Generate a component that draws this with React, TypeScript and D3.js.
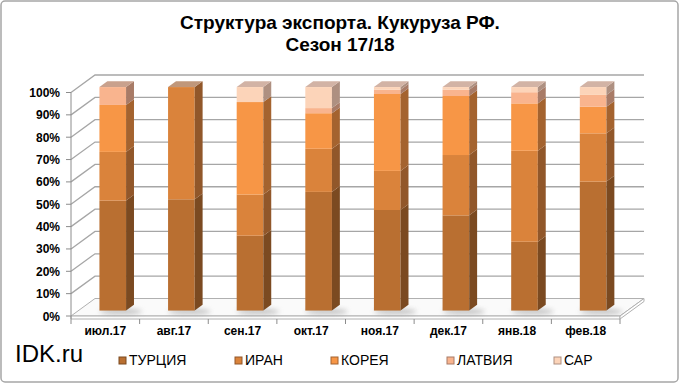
import React from "react";
import * as d3 from "d3";

const categories = ["июл.17", "авг.17", "сен.17", "окт.17", "ноя.17", "дек.17", "янв.18", "фев.18"];
const seriesNames = ["ТУРЦИЯ", "ИРАН", "КОРЕЯ", "ЛАТВИЯ", "САР"];
const turkey = [49.2, 49.8, 33.5, 53.1, 45, 42.6, 30.8, 57.7];
const iran = [21.8, 50.2, 18.4, 19.3, 17.5, 27, 40.7, 21.6];
const korea = [21, 0, 41.4, 15.9, 34.4, 26.4, 21.2, 11.9];
const latvia = [8, 0, 0, 2.3, 1.9, 2.8, 5, 5.3];
const sar = [0, 0, 6.7, 9.4, 1.2, 1.2, 2.3, 3.5];
const yTicks = [0, 10, 20, 30, 40, 50, 60, 70, 80, 90, 100];
const titleLines = ["Структура экспорта. Кукуруза РФ.", "Сезон 17/18"];

const frontColors = ["#B96F31", "#DA833B", "#F79646", "#F9B48E", "#FCD4B9"];
const sideColors = ["#7B4A21", "#91572A", "#A4632F", "#A87B67", "#AE9081"];
const topColors = ["#A98060", "#C0977A", "#D0A083", "#C9A18D", "#D2B3A5"];

const W = 680;
const H = 384;
const X0 = 71;
const X1 = 620;
const DX = 24;
const DY = -17.5;
const T0 = 0.31;
const TD = 0.33;

export default function App() {
  const table = categories.map((c, i) => ({
    cat: c,
    [seriesNames[0]]: turkey[i],
    [seriesNames[1]]: iran[i],
    [seriesNames[2]]: korea[i],
    [seriesNames[3]]: latvia[i],
    [seriesNames[4]]: sar[i],
  }));
  const stack = d3.stack<any>().keys(seriesNames).offset(d3.stackOffsetExpand);
  const layers = stack(table);

  const x = d3.scaleBand<string>().domain(categories).range([X0, X1]).paddingInner(0.612).paddingOuter(0.306);
  const xStep = d3.scaleBand<string>().domain(categories).range([X0, X1]);
  const y = d3.scaleLinear().domain([0, 1]).range([316, 92.5]);
  const yPct = d3.scaleLinear().domain([0, 100]).range([316, 92.5]);

  const fx = T0 * DX;
  const fy = T0 * DY;
  const sdx = TD * DX;
  const sdy = TD * DY;
  const bw = x.bandwidth();

  const font = "'Liberation Sans', Arial, sans-serif";

  return (
    <svg width={W} height={H} style={{ position: "absolute", left: 0, top: 0, background: "#fff" }}>
      <defs>
        <filter id="blur" x="-50%" y="-50%" width="200%" height="200%">
          <feGaussianBlur stdDeviation="2.5" />
        </filter>
      </defs>
      <rect x={1} y={1} width={W - 3} height={H - 3} rx={4} fill="#fff" stroke="#a6a6a6" strokeWidth={1.5} />
      {titleLines.map((t, i) => (
        <text key={i} x={340} y={29 + i * 22} textAnchor="middle" fontFamily="'Liberation Sans Narrow', 'Arial Narrow', sans-serif" fontWeight="bold" fontSize={19} fill="#000">
          {t}
        </text>
      ))}
      {/* floor */}
      <polygon
        points={`${X0},316 ${X1},316 ${X1 + DX},${316 + DY} ${X0 + DX},${316 + DY}`}
        fill="#fafafa"
        stroke="#b0b0b0"
        strokeWidth={1}
      />
      <polygon
        points={`${X0},316 ${X1},316 ${X1},319 ${X0},319`}
        fill="#fff"
        stroke="#b0b0b0"
        strokeWidth={1}
      />
      <polygon
        points={`${X1},316 ${X1 + DX},${316 + DY} ${X1 + DX},${319 + DY} ${X1},319`}
        fill="#fff"
        stroke="#b0b0b0"
        strokeWidth={1}
      />
      {/* gridlines */}
      {yTicks.filter((t) => t > 0).map((t) => {
        const yy = yPct(t);
        return (
          <polyline
            key={t}
            points={`${X0},${yy} ${X0 + DX},${yy + DY} ${X1 + DX},${yy + DY}`}
            fill="none"
            stroke="#a6a6a6"
            strokeWidth={1.3}
          />
        );
      })}
      {/* y axis */}
      <line x1={X0} x2={X0} y1={yPct(100)} y2={319} stroke="#8c8c8c" strokeWidth={1} />
      {yTicks.map((t) => (
        <g key={t}>
          <line x1={X0 - 5} x2={X0} y1={yPct(t)} y2={yPct(t)} stroke="#8c8c8c" strokeWidth={1} />
          <text x={60} y={yPct(t) + 4.5} textAnchor="end" fontFamily={font} fontWeight="bold" fontSize={12} fill="#000">
            {t + "%"}
          </text>
        </g>
      ))}
      {/* x ticks & labels */}
      {categories.map((c, i) => (
        <line key={"t" + i} x1={xStep(c)!} x2={xStep(c)!} y1={319} y2={324} stroke="#8c8c8c" strokeWidth={1} />
      ))}
      <line x1={X1} x2={X1} y1={319} y2={324} stroke="#8c8c8c" strokeWidth={1} />
      {categories.map((c) => (
        <text key={"l" + c} x={xStep(c)! + xStep.bandwidth() / 2} y={335} textAnchor="middle" fontFamily={font} fontWeight="bold" fontSize={12} fill="#000">
          {c}
        </text>
      ))}
      {/* shadows */}
      {categories.map((c) => (
        <ellipse
          key={"s" + c}
          cx={x(c)! + fx + bw / 2 + 8}
          cy={y(0) + fy + 1}
          rx={bw / 2 + 8}
          ry={3}
          fill="#9a9a9a"
          opacity={0.55}
          filter="url(#blur)"
        />
      ))}
      {/* bars */}
      {categories.map((c, ci) => {
        const xl = x(c)! + fx;
        const xr = xl + bw;
        let topIdx = 0;
        layers.forEach((l, li) => {
          if (l[ci][1] - l[ci][0] > 0) topIdx = li;
        });
        return (
          <g key={"b" + c}>
            {layers.map((l, li) => {
              const d = l[ci];
              if (d[1] - d[0] <= 0) return null;
              const yt = y(d[1]) + fy;
              const yb = y(d[0]) + fy;
              return (
                <g key={li}>
                  <rect x={xl} y={yt} width={bw} height={yb - yt} fill={frontColors[li]} />
                  <polygon
                    points={`${xr},${yt} ${xr + sdx},${yt + sdy} ${xr + sdx},${yb + sdy} ${xr},${yb}`}
                    fill={sideColors[li]}
                  />
                </g>
              );
            })}
            {(() => {
              const yt = y(1) + fy;
              return (
                <polygon
                  points={`${xl},${yt} ${xr},${yt} ${xr + sdx},${yt + sdy} ${xl + sdx},${yt + sdy}`}
                  fill={topColors[topIdx]}
                />
              );
            })()}
          </g>
        );
      })}
      {/* watermark */}
      <text x={15} y={362} fontFamily={font} fontSize={24} fill="#000">
        IDK.ru
      </text>
      {/* legend */}
      {seriesNames.map((s, i) => {
        const lx = [119, 235, 331, 447, 554][i];
        return (
          <g key={"lg" + s}>
            <rect x={lx} y={357} width={7} height={7} fill={frontColors[i]} stroke={sideColors[i]} strokeWidth={1} />
            <text x={lx + 10} y={365} fontFamily={font} fontSize={14} fill="#000">
              {s}
            </text>
          </g>
        );
      })}
    </svg>
  );
}
